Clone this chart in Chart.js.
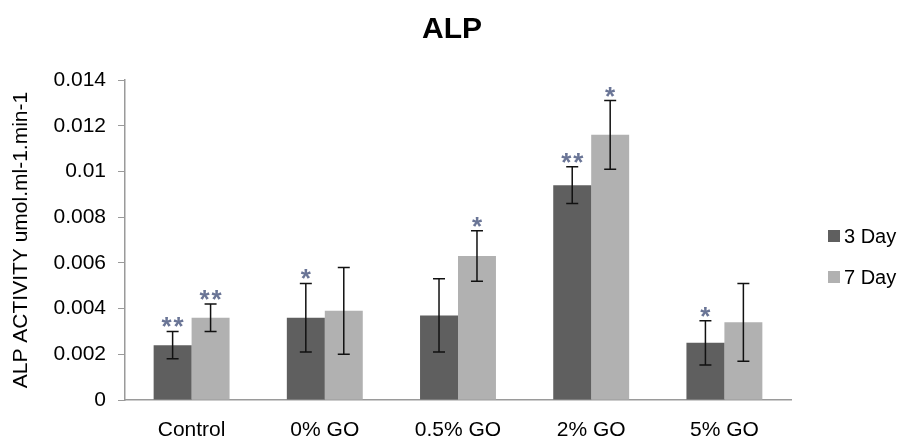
<!DOCTYPE html>
<html lang="en">
<head>
  <meta charset="UTF-8" />
  <title>ALP</title>
  <script src="https://cdn.jsdelivr.net/npm/chart.js"></script>
  <style>
    html, body { margin: 0; padding: 0; background: #fff; }
    #wrap { width: 904px; height: 441px; }
  </style>
</head>
<body>
<div id="wrap"><canvas id="alpChart" width="904" height="441"></canvas></div>
<script>
  // data
  const categories = ['Control', '0% GO', '0.5% GO', '2% GO', '5% GO'];
  const seriesNames = ['3 Day', '7 Day'];
  const day3 = [0.0024, 0.0036, 0.0037, 0.0094, 0.0025];
  const day7 = [0.0036, 0.0039, 0.0063, 0.0116, 0.0034];
  const day3Err = [0.0006, 0.0015, 0.0016, 0.0008, 0.00097];
  const day7Err = [0.0006, 0.0019, 0.0011, 0.0015, 0.0017];
  const day3Stars = ['**', '*', '', '**', '*'];
  const day7Stars = ['**', '', '*', '*', ''];
  const yTicks = [0, 0.002, 0.004, 0.006, 0.008, 0.01, 0.012, 0.014];

  const FONT = "'Liberation Sans', Arial, sans-serif";
  const errs = [day3Err, day7Err];
  const stars = [day3Stars, day7Stars];

  const errorBars = {
    id: 'errorBars',
    afterDatasetsDraw(chart) {
      const ctx = chart.ctx;
      const y = chart.scales.y;
      ctx.save();
      chart.data.datasets.forEach((ds, i) => {
        const meta = chart.getDatasetMeta(i);
        meta.data.forEach((bar, j) => {
          const v = ds.data[j], e = errs[i][j];
          const top = y.getPixelForValue(v + e);
          const bot = y.getPixelForValue(v - e);
          ctx.strokeStyle = '#111';
          ctx.lineWidth = 1.5;
          ctx.beginPath();
          ctx.moveTo(bar.x, top); ctx.lineTo(bar.x, bot);
          ctx.moveTo(bar.x - 6, top); ctx.lineTo(bar.x + 6, top);
          ctx.moveTo(bar.x - 6, bot); ctx.lineTo(bar.x + 6, bot);
          ctx.stroke();
          // significance marks
          const s = stars[i][j];
          if (s) {
            ctx.fillStyle = '#6a7596';
            ctx.font = 'bold 26px ' + FONT;
            ctx.textAlign = 'center';
            ctx.textBaseline = 'alphabetic';
            for (let k = 0; k < s.length; k++) {
              const dx = (k - (s.length - 1) / 2) * 12;
              ctx.fillText('*', bar.x + dx, top + 4);
            }
          }
        });
      });
      ctx.restore();
    }
  };

  const sideLegend = {
    id: 'sideLegend',
    afterDraw(chart) {
      const ctx = chart.ctx;
      ctx.save();
      ctx.font = '20px ' + FONT;
      ctx.textAlign = 'left';
      ctx.textBaseline = 'middle';
      chart.data.datasets.forEach((ds, i) => {
        const cy = 236 + i * 41;
        ctx.fillStyle = ds.backgroundColor;
        ctx.fillRect(828, cy - 6, 12, 12);
        ctx.fillStyle = '#000';
        ctx.fillText(ds.label, 844, cy + 1);
      });
      ctx.restore();
    }
  };

  new Chart(document.getElementById('alpChart'), {
    type: 'bar',
    data: {
      labels: categories,
      datasets: [
        { label: seriesNames[0], data: day3, backgroundColor: '#5f5f5f' },
        { label: seriesNames[1], data: day7, backgroundColor: '#b1b1b1' }
      ]
    },
    options: {
      responsive: false,
      animation: false,
      devicePixelRatio: 1,
      layout: { padding: 0 },
      datasets: { bar: { categoryPercentage: 0.57, barPercentage: 1.0 } },
      plugins: {
        legend: { display: false },
        tooltip: { enabled: false },
        title: {
          display: true,
          text: 'ALP',
          color: '#000',
          font: { family: FONT, size: 30, weight: 'bold' },
          padding: { top: 12, bottom: 32 }
        }
      },
      scales: {
        x: {
          grid: { display: false, drawTicks: false },
          border: { color: '#9a9a9a', width: 1.5 },
          ticks: { color: '#000', font: { family: FONT, size: 21 }, padding: 18, maxRotation: 0 },
          afterFit(s) { s.height = 41; }
        },
        y: {
          min: 0,
          max: 0.014,
          afterBuildTicks(s) { s.ticks = yTicks.map(v => ({ value: v })); },
          grid: { drawOnChartArea: false, drawTicks: true, tickLength: 7, color: '#9a9a9a' },
          border: { color: '#9a9a9a', width: 1.5 },
          ticks: {
            color: '#000',
            font: { family: FONT, size: 21 },
            padding: 12,
            callback: v => String(+v.toFixed(3))
          },
          title: {
            display: true,
            text: 'ALP ACTIVITY umol.ml-1.min-1',
            color: '#000',
            font: { family: FONT, size: 21 },
            padding: { top: 9, bottom: 0 }
          },
          afterFit(s) { s.width = 125; }
        },
        // empty right-hand strip that leaves room for the legend
        side: {
          position: 'right',
          grid: { display: false },
          border: { display: false },
          ticks: { display: false },
          afterFit(s) { s.width = 113; }
        }
      }
    },
    plugins: [errorBars, sideLegend]
  });
</script>
</body>
</html>
